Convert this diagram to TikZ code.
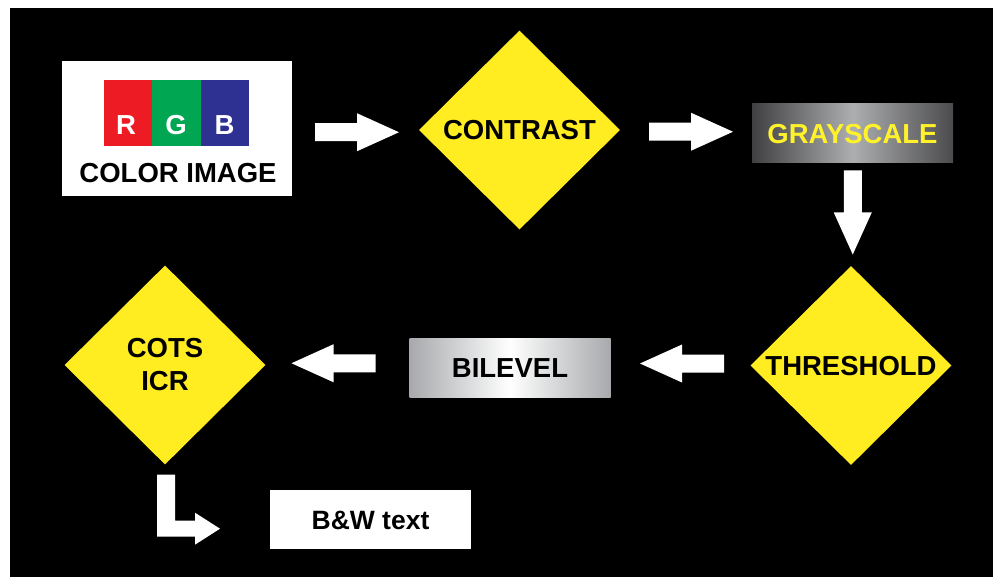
\documentclass[tikz,border=0pt]{standalone}
\usepackage{fontspec}
\setmainfont{Liberation Sans}
\usetikzlibrary{shapes.geometric,calc}

\definecolor{rgbred}{HTML}{ED1C24}
\definecolor{rgbgreen}{HTML}{00A651}
\definecolor{rgbblue}{HTML}{2E3192}
\definecolor{signyellow}{HTML}{FFEC21}
\definecolor{textyellow}{HTML}{FFF22B}
\definecolor{gsdark}{HTML}{404042}
\definecolor{gsdarkr}{HTML}{4B4B4D}
\definecolor{gslight}{HTML}{ADAEB0}
\definecolor{blgray}{HTML}{A7A9AC}

\tikzset{
  lbl/.style={font=\bfseries\fontsize{27.5}{33}\selectfont, inner sep=0pt},
  caps/.style={lbl, text height=19.7pt, text depth=0pt},
  decision/.style={diamond, fill=signyellow, inner sep=0pt,
    minimum width=201pt, minimum height=199pt},
  panel/.style={rectangle, inner sep=0pt, minimum width=201pt, minimum height=59pt},
  swatch/.style={rectangle, inner sep=0pt, minimum width=48.4pt, minimum height=66pt},
  blockarrow/.pic={
    \fill[white] (-42,-9) -- (0,-9) -- (0,-19) -- (42,0) -- (0,19) -- (0,9) -- (-42,9) -- cycle;
  }
}

\begin{document}
\begin{tikzpicture}[x=1pt,y=-1pt]
\useasboundingbox (0,0) rectangle (1000,577);
\fill[white] (0,0) rectangle (1000,577);
\fill[black] (10,8) rectangle (993,577);

% colour image card
\node[rectangle, fill=white, inner sep=0pt, minimum width=230pt, minimum height=135pt]
  (img) at (177,128.5) {};
\node[swatch, fill=rgbred]   (r) at (128.2,113) {};
\node[swatch, fill=rgbgreen] (g) at (176.6,113) {};
\node[swatch, fill=rgbblue]  (b) at (225.0,113) {};
\node[lbl, text=white, anchor=base] (rl) at (126,135) {R};
\node[lbl, text=white, anchor=base] (gl) at (176,135) {G};
\node[lbl, text=white, anchor=base] (bl) at (224.5,135) {B};
\node[lbl, anchor=base] (imgtxt) at (178,183) {COLOR IMAGE};

% processing steps (middle color must come after left/right color)
\node[decision, caps] (contrast) at (519.5,130) {CONTRAST};
\node[panel, caps, text=textyellow, left color=gsdark, right color=gsdarkr, middle color=gslight]
  (gray) at (852.5,133.5) {GRAYSCALE};
\node[decision, caps] (thresh) at (851,365.5) {THRESHOLD};
\node[panel, caps, left color=blgray, right color=blgray, middle color=white]
  (bilevel) at (510,367.5) {BILEVEL};
\node[decision, lbl, align=center] (icr) at (165,365) {COTS\\ICR};
\node[panel, fill=white, lbl, text height=19pt, text depth=0pt,
  font=\bfseries\fontsize{26.5}{30}\selectfont] (bw) at (370.5,519.5) {B\&W text};

% block arrows between the steps
\pic at ($(img.east)!0.5!(contrast.west)+(1.5,3)$) {blockarrow};
\pic at ($(contrast.east)!0.5!(gray.west)+(5,0)$) {blockarrow};
\pic[rotate=-90] at ($(gray.south)!0.5!(thresh.north)+(1,-2)$) {blockarrow};
\pic[rotate=180] at ($(bilevel.east)!0.5!(thresh.west)+(1.5,-3)$) {blockarrow};
\pic[rotate=180] at ($(icr.east)!0.5!(bilevel.west)+(-4,-3)$) {blockarrow};

% bent arrow from the recogniser to the output
\fill[white] ($(icr.south)+(-8,10)$) -- ++(18,0) -- ++(0,46) -- ++(20,0) -- ++(0,-8)
  -- ++(25,16) -- ++(-25,16) -- ++(0,-8) -- ++(-38,0) -- cycle;
\end{tikzpicture}
\end{document}
